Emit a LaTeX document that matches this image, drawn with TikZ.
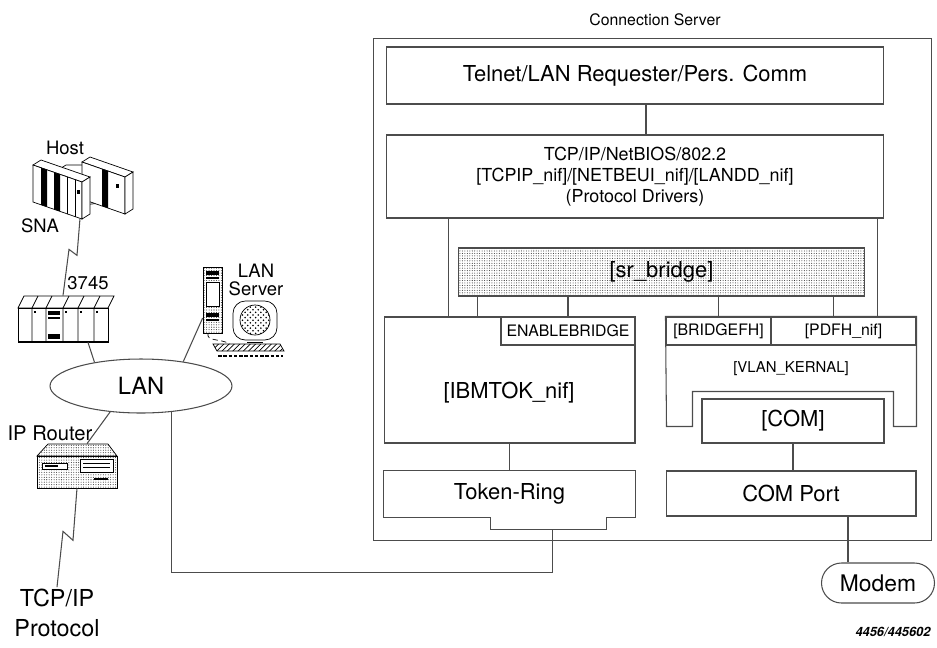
\documentclass[tikz,border=0pt]{standalone}
\usepackage{fontspec}
\setmainfont{TeX Gyre Heros}
\usetikzlibrary{positioning,shapes.geometric,shapes.misc,patterns,patterns.meta}

\newcommand{\bigtxt}{\fontsize{12.5}{15}\selectfont}
\newcommand{\midtxt}{\fontsize{10.5}{12.5}\selectfont}
\newcommand{\smalltxt}{\fontsize{9}{11}\selectfont}

\begin{document}
\begin{tikzpicture}[
  x=0.02cm, y=-0.02cm,
  box/.style={rectangle, draw=black!70, line width=0.6pt, inner sep=0pt, align=center, font=\bigtxt},
  tabbox/.style={box, minimum height=0.56cm, font=\smalltxt},
  wire/.style={draw=black!70, line width=0.6pt},
  ghost/.style={rectangle, inner sep=0pt},
  lbl/.style={inner sep=1pt, align=center, font=\midtxt},
  dotfill/.style={pattern={Dots[distance=1.4pt, radius=0.3pt]}, pattern color=black!80},
  clipart/.style={draw=black, line width=0.4pt}
]
\useasboundingbox (0,0) rectangle (937,647);

% connection server stack
\node[box, minimum width=11.18cm, minimum height=10.06cm] (server) at (652.5,289.5) {};
\node[font=\smalltxt] (title) at (655,20) {Connection Server};
\node[box, minimum width=9.96cm, minimum height=1.14cm] (telnet) at (635,75.5) {Telnet/LAN Requester/Pers. Comm};
\node[box, minimum width=9.96cm, minimum height=1.66cm, font=\fontsize{10.2}{11.8}\selectfont] (proto) at (635,176.5)
  {TCP/IP/NetBIOS/802.2\\{}[TCPIP\_nif]/[NETBEUI\_nif]/[LANDD\_nif]\\(Protocol Drivers)};
\node[box, dotfill, minimum width=8.14cm, minimum height=0.96cm] (bridge) at (661.5,272) {[sr\_bridge]};

\node[box, minimum width=5.02cm, minimum height=2.52cm] (ibmtok) at (509.5,380) {};
\node[font=\bigtxt] (ibmtxt) at (509,393) {[IBMTOK\_nif]};
\node[tabbox, minimum width=2.68cm] (enable) at (568,331) {ENABLEBRIDGE};
\node[tabbox, minimum width=2.10cm] (bridgefh) at (718.5,331) {[BRIDGEFH]};
\node[tabbox, minimum width=2.90cm] (pdfh) at (843.5,331) {[PDFH\_nif]};
\draw[wire] (bridgefh.north west) -- (pdfh.north east) -- ++(0,110) -- ++(-23,0) -- ++(0,-35)
  -- ++(-201,0) -- ++(0,35) -- ++(-26,0) -- cycle;
\node[font=\fontsize{8.5}{10}\selectfont] (vlan) at (791,369) {[VLAN\_KERNAL]};
\node[box, minimum width=3.64cm, minimum height=0.88cm] (com) at (793,421) {[COM]};

\node[box, draw=none, minimum width=5.02cm, minimum height=0.92cm] (ring) at (509.5,494) {Token-Ring};
\draw[wire] (ring.south east) -- (ring.north east) -- (ring.north west) -- (ring.south west)
  -- ++(107,0) -- ++(0,12) -- ++(62,0) coordinate (notch) -- ++(54,0) -- ++(0,-12) -- cycle;
\node[box, minimum width=5.0cm, minimum height=0.9cm] (comport) at (791,493.5) {COM Port};
\node[draw=black!70, line width=0.6pt, rounded rectangle, minimum width=2.26cm, minimum height=0.8cm,
  inner sep=0pt, font=\fontsize{13}{15}\selectfont] (modem) at (878,583) {Modem};
\node[font=\fontsize{7.3}{9}\selectfont\bfseries\itshape] (figid) at (893,632) {4456/445602};

\coordinate (protap) at ([xshift=0.22cm]telnet.south);
\coordinate (ibmtap) at ([xshift=1.3cm]ibmtok.north west);
\coordinate (pdftap) at ([xshift=-0.78cm]pdfh.north east);
\coordinate (srtapA) at ([xshift=1.88cm]ibmtok.north west);
\coordinate (srtapB) at ([xshift=-0.2cm]pdfh.north);
\coordinate (modemtap) at ([xshift=1.14cm]comport.south);

\draw[wire] (protap) -- (protap |- proto.north);
\draw[wire] (ibmtap) -- (ibmtap |- proto.south);
\draw[wire] (pdftap) -- (pdftap |- proto.south);
\draw[wire] (srtapA) -- (srtapA |- bridge.south);
\draw[wire] (enable.north) -- (enable.north |- bridge.south);
\draw[wire] (bridgefh.north) -- (bridgefh.north |- bridge.south);
\draw[wire] (srtapB) -- (srtapB |- bridge.south);
\draw[wire] (ibmtok.south) -- (ring.north);
\draw[wire] (com.south) -- (com.south |- comport.north);
\draw[wire] (modemtap) -- (modemtap |- modem.north);

% LAN side
\node[ellipse, draw=black!70, line width=0.6pt, minimum width=3.64cm, minimum height=1.08cm, inner sep=0pt,
  font=\fontsize{13.5}{16}\selectfont] (lan) at (141,386) {LAN};
\node[ghost, minimum width=2cm, minimum height=1.2cm] (host) at (80,188) {};
\node[ghost, minimum width=1.8cm, minimum height=0.92cm] (fep) at (63,319) {};
\node[ghost, minimum width=0.38cm, minimum height=1.32cm] (srv) at (212.5,300) {};
\node[ghost, minimum width=1.6cm, minimum height=0.88cm] (router) at (77,466) {};

\node[lbl] (hostlbl) at (65,148) {Host};
\node[lbl] (snalbl) at (40,226) {SNA};
\node[lbl] (feplbl) at (88,283) {3745};
\node[lbl, font=\fontsize{10.5}{9.8}\selectfont] (srvlbl) at (256,280) {LAN\\Server};
\node[lbl, font=\fontsize{11.5}{13}\selectfont] (rtrlbl) at (50,433) {IP Router};
\node[lbl, font=\fontsize{13.3}{17}\selectfont] (tcpip) at (57,613) {TCP/IP\\Protocol};

% host
\filldraw[clipart, fill=white] (58,170) -- (66,165) -- (100,165) -- (100,203) -- (58,208) -- cycle;
\filldraw[clipart, fill=white] (82,162) -- (90,157) -- (133,172) -- (125,177) -- cycle;
\filldraw[clipart, fill=white] (82,162) -- (125,177) -- (125,214) -- (82,199) -- cycle;
\filldraw[clipart, fill=white] (125,177) -- (133,172) -- (133,209) -- (125,214) -- cycle;
\fill (102,169) -- (108,171) -- (108,208) -- (102,206) -- cycle;
\fill (116,184) rectangle (119,188);
\filldraw[clipart, fill=white] (33,165) -- (41,160) -- (90,177) -- (82,182) -- cycle;
\filldraw[clipart, fill=white] (33,165) -- (82,182) -- (82,219) -- (33,202) -- cycle;
\filldraw[clipart, fill=white] (82,182) -- (90,177) -- (90,214) -- (82,219) -- cycle;
\fill (41,167.8) -- (47,169.9) -- (47,206.9) -- (41,204.8) -- cycle;
\fill (54,172.3) -- (60,174.4) -- (60,211.4) -- (54,209.3) -- cycle;
\draw[clipart] (67,176.8) -- (67,213.8);
\draw[clipart] (75,179.6) -- (75,216.6);
\fill (77,190) rectangle (80,194);

% 3745
\filldraw[clipart, fill=white] (18,308) -- (24,296) -- (114,296) -- (108,308) -- cycle;
\filldraw[clipart, fill=white] (18,308) rectangle (108,342);
\foreach \px in {32,46,63,78,94} {
  \draw[clipart] (\px,342) -- (\px,308) -- ++(6,-12);
  \fill (\px+2,311) rectangle ++(1.5,1.5);
}
\fill (48,311) rectangle (60,315);
\fill (48,317) rectangle (60,319);
\fill (48,334) rectangle (60,339);
\draw[line width=1.6pt] (18,342) -- (108,342);

% LAN server
\draw[clipart, dotfill] (203,267) rectangle (222,333);
\filldraw[clipart, fill=white] (206,282) rectangle (219,306);
\fill (206,271) rectangle (219,275);
\fill (206,277) rectangle (219,279);
\fill (206,313) rectangle (219,317);
\fill (206,319) rectangle (219,321);
\draw[clipart, fill=white, rounded corners=7pt] (233,301) rectangle (277,340);
\draw[clipart, pattern=crosshatch dots] (255,320) circle[radius=15];
\draw[clipart] (247,342) -- (263,342);
\draw[clipart, pattern=north east lines] (213,344) -- (280,344) -- (284,351) -- (217,351) -- cycle;
\draw[line width=1pt, dash pattern=on 2pt off 1pt] (218,356) -- (283,356);
\draw[clipart, densely dashed] (208,333) .. controls (206,342) and (220,338) .. (230,344);

% router
\draw[clipart, dotfill] (48,444) -- (108,444) -- (117,456) -- (37,456) -- cycle;
\draw[clipart, dotfill] (37,456) rectangle (117,488);
\filldraw[clipart, fill=white] (42,463) rectangle (67,469);
\fill (45,465) rectangle (58,467);
\filldraw[clipart, fill=white] (80,459) rectangle (113,472);
\draw[clipart] (83,463) -- (110,463);
\draw[clipart] (83,467) -- (110,467);
\fill (94,478) rectangle (108,480);

% links
\draw[wire] (host.south) -- ++(-3,37) -- ++(-8,-6) -- (fep.north);
\draw[wire] ([xshift=0.5cm]fep.south) -- (lan.153);
\draw[wire] (lan.30) -- ([yshift=-0.36cm]srv.west);
\draw[wire] (lan.-140) -- ([xshift=0.2cm]router.north);
\draw[wire] (router.south) -- ++(-4,52) -- ++(-10,-9) -- (tcpip.north);
\draw[wire] (lan.-40) |- ([yshift=-0.86cm]notch) -- (notch);
\end{tikzpicture}
\end{document}
